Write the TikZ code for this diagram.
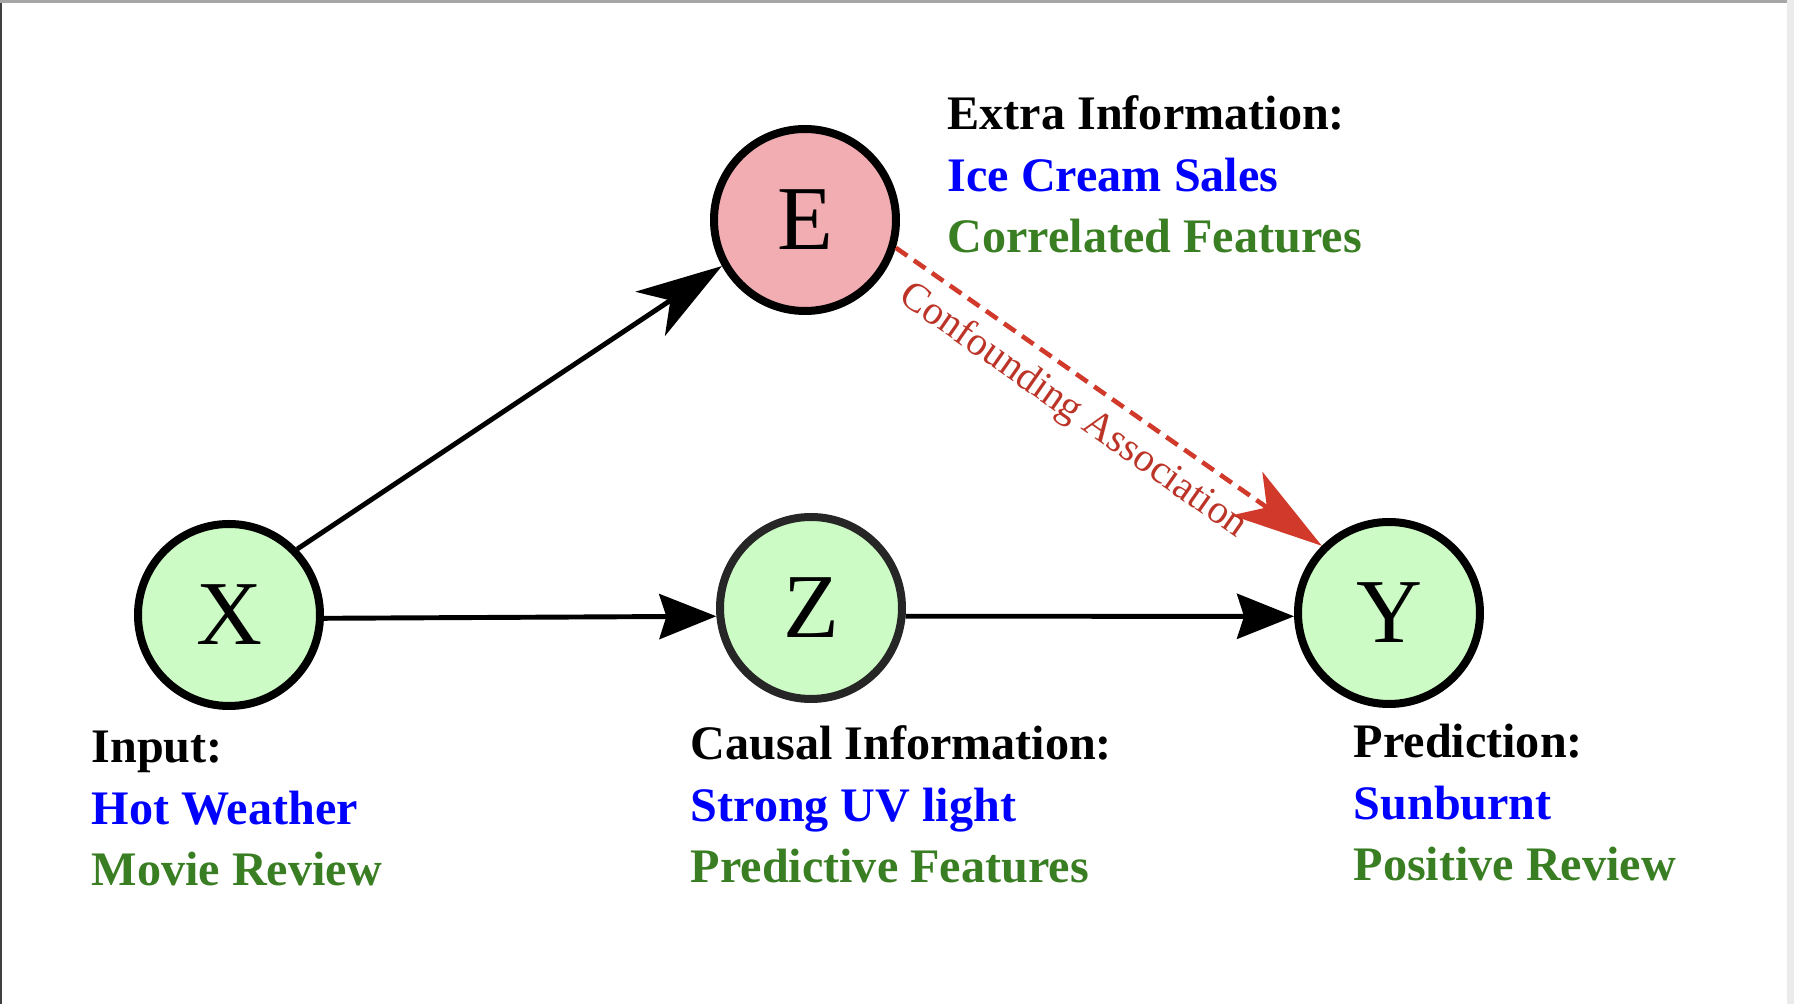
\documentclass[tikz,border=0pt]{standalone}
\usepackage{fontspec}
\setmainfont{Liberation Serif}
\usetikzlibrary{arrows.meta}
\definecolor{nodepink}{HTML}{F2ADB3}
\definecolor{nodegreen}{HTML}{CDFBC5}
\definecolor{featblue}{HTML}{0000FF}
\definecolor{featgreen}{HTML}{3A7E23}
\definecolor{confred}{HTML}{D13A2B}
\begin{document}
\begin{tikzpicture}[
	var/.style={circle,draw,line width=0.08cm,minimum size=1.82cm,inner sep=0pt,font=\fontsize{26}{30}\selectfont},
	info/.style={anchor=base west,inner sep=0pt,align=left,font=\fontsize{13.7}{17.6}\selectfont\bfseries},
	edge/.style={line width=1.4pt,-{Stealth[length=0.57cm,width=0.45cm,inset=0.07cm]}},
	bighead/.style={-{Stealth[length=0.86cm,width=0.53cm,inset=0.24cm]}}
	]
		\useasboundingbox (0,0) rectangle (17.94,10.04);
		% page edges
		\fill[black!75] (0,0) rectangle (0.02,10.04);
		\fill[black!35] (0,10.01) rectangle (17.94,10.04);
		\fill[black!8] (17.87,0) rectangle (17.94,10.04);
		% variables
		\node[var,fill=nodegreen] (X) at (2.29,3.89) {X};
		\node[var,fill=nodegreen,draw=black!85] (Z) at (8.11,3.96) {Z};
		\node[var,fill=nodegreen] (Y) at (13.89,3.91) {Y};
		\node[var,fill=nodepink] (E) at (8.05,7.84) {E};
		% descriptions (base = last line)
		\node[info] (xinfo) at (0.91,1.18) {Input:\\\textcolor{featblue}{Hot Weather}\\\textcolor{featgreen}{Movie Review}};
		\node[info] (zinfo) at (6.90,1.21) {Causal Information:\\\textcolor{featblue}{Strong UV light}\\\textcolor{featgreen}{Predictive Features}};
		\node[info] (yinfo) at (13.53,1.23) {Prediction:\\\textcolor{featblue}{Sunburnt}\\\textcolor{featgreen}{Positive Review}};
		\node[info] (einfo) at (9.47,7.51) {Extra Information:\\\textcolor{featblue}{Ice Cream Sales}\\\textcolor{featgreen}{Correlated Features}};
		% edges
		\draw[edge,bighead] (X.44) -- (E.209);
		\draw[edge] (X.-2) -- (Z.185);
		\draw[edge] (Z.-5) -- (Y.182);
		\draw[confred,line width=1.3pt,dash pattern=on 0.14cm off 0.08cm,-{Stealth[length=0.91cm,width=0.53cm,inset=0.24cm]}] (E.-17) -- (Y.135)
			node[pos=0.46,sloped,below,text=confred!90!black,font=\fontsize{11.5}{14}\selectfont] (conf) {Confounding Association};
	\end{tikzpicture}
\end{document}
